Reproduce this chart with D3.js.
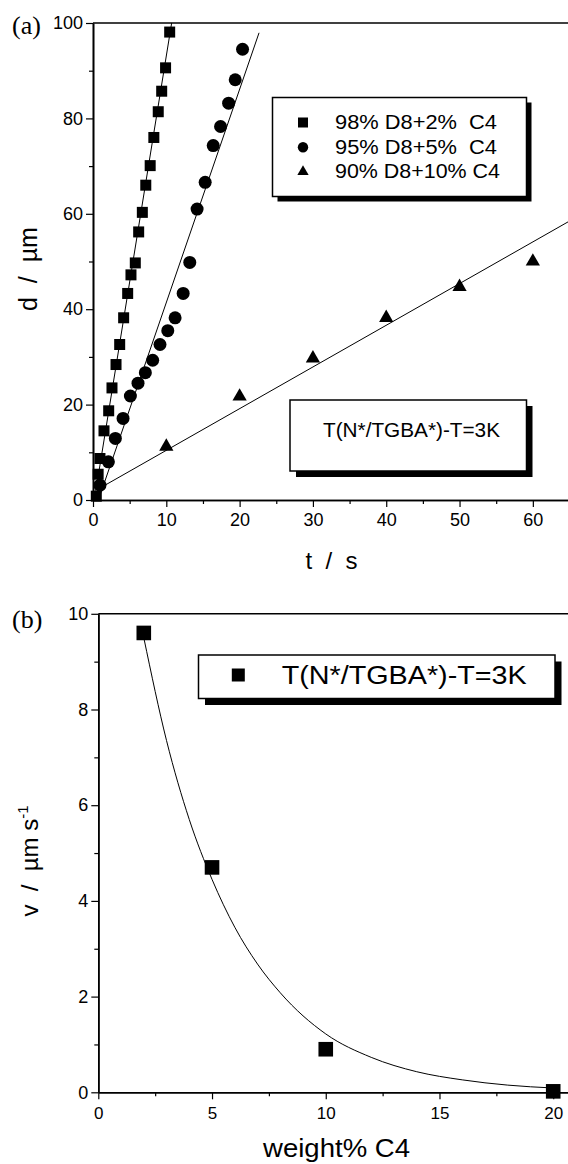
<!DOCTYPE html>
<html>
<head>
<meta charset="utf-8">
<script src="https://cdn.jsdelivr.net/npm/d3@7"></script>
<style>
  body { margin: 0; background: #fff; }
  svg { display: block; }
  text { fill: #000; white-space: pre; }
</style>
</head>
<body>
<div id="chart"></div>
<script>
// panel (a): growth of d with time, three mixtures
var sq98T = [0.45, 0.7, 0.95, 1.5, 2.14, 2.59, 3.14, 3.64, 4.18, 4.73, 5.18, 5.77, 6.23, 6.73, 7.2, 7.8, 8.3, 8.9, 9.37, 9.9, 10.46];
var sq98D = [0.8, 5.4, 8.7, 14.5, 18.7, 23.5, 28.4, 32.6, 38.2, 43.3, 47.2, 49.7, 56.2, 60.3, 66.0, 70.1, 76.0, 81.4, 85.7, 90.6, 98.1];
var circ95T = [0.95, 2.1, 3.05, 4.1, 5.1, 6.14, 7.14, 8.14, 9.14, 10.2, 11.2, 12.3, 13.2, 14.2, 15.3, 16.4, 17.4, 18.5, 19.4, 20.4];
var circ95D = [3.1, 8.0, 12.9, 17.1, 21.8, 24.5, 26.7, 29.3, 32.6, 35.5, 38.2, 43.3, 49.8, 61.0, 66.6, 74.3, 78.3, 83.2, 88.1, 94.5];
var tri90T = [10, 20, 30, 40, 50, 60];
var tri90D = [11.2, 21.7, 29.7, 38.2, 44.7, 50.0];

// linear fits: d = slope * t + intercept, over [start, end]
var fitSlope = [9.48, 4.47, 0.874];
var fitIntercept = [-1.7, -3.3, 1.67];
var fitStart = [0.18, 0.74, 1.64];
var fitEnd = [10.73, 22.65, 65];

var legendA = ["98% D8+2%  C4", "95% D8+5%  C4", "90% D8+10% C4"];
var noteText = "T(N*/TGBA*)-T=3K";

var topXTicks = [0, 10, 20, 30, 40, 50, 60];
var topXMinor = [5, 15, 25, 35, 45, 55, 65];
var topYTicks = [0, 20, 40, 60, 80, 100];
var topYMinor = [10, 30, 50, 70, 90];

// panel (b): velocity vs concentration
var weightC4 = [2, 5, 10, 20];
var velocity = [9.6, 4.7, 0.9, 0.02];
// points along the drawn fit curve
var curveW = [2, 3, 4, 5, 6, 7, 8, 10, 12, 14, 16, 18, 20];
var curveV = [9.5, 7.35, 5.7, 4.45, 3.45, 2.68, 2.08, 1.22, 0.73, 0.43, 0.26, 0.15, 0.09];

var botXTicks = [0, 5, 10, 15, 20];
var botXMinor = [2.5, 7.5, 12.5, 17.5];
var botYTicks = [0, 2, 4, 6, 8, 10];
var botYMinor = [1, 3, 5, 7, 9];

var width = 568, height = 1164;
var sans = "'Liberation Sans', Arial, sans-serif";
var serif = "'Liberation Serif', 'Times New Roman', serif";

var svg = d3.select("#chart")
  .append("svg")
    .attr("width", width)
    .attr("height", height)
    .style("font-family", sans);

function styleAxis(g, fontSize) {
  g.select(".domain").attr("stroke", "#000").attr("stroke-width", 1.6);
  g.selectAll(".tick line").attr("stroke", "#000").attr("stroke-width", 1.2);
  g.selectAll(".tick text").style("font-size", fontSize + "px")
    .style("font-family", sans).attr("fill", "#000");
}

function drawBox(x, y, w, h, off) {
  svg.append("rect").attr("x", x + off).attr("y", y + off).attr("width", w).attr("height", h).attr("fill", "#000");
  svg.append("rect").attr("x", x).attr("y", y).attr("width", w).attr("height", h)
    .attr("fill", "#fff").attr("stroke", "#000").attr("stroke-width", 1.5);
}

// ---------- panel (a) ----------
var xA = d3.scaleLinear().domain([0, 65]).range([93, 569.5]);
var yA = d3.scaleLinear().domain([0, 100]).range([500, 23]);

// top frame line
svg.append("line")
  .attr("x1", xA(0)).attr("x2", xA(65))
  .attr("y1", yA(100)).attr("y2", yA(100))
  .attr("stroke", "#000").attr("stroke-width", 1.5);

var gxA = svg.append("g").attr("transform", "translate(0," + yA(0) + ")")
  .call(d3.axisBottom(xA).tickValues(topXTicks).tickSize(7).tickSizeOuter(0).tickPadding(6));
styleAxis(gxA, 18);
var gxAm = svg.append("g").attr("transform", "translate(0," + yA(0) + ")")
  .call(d3.axisBottom(xA).tickValues(topXMinor).tickSize(4).tickSizeOuter(0).tickFormat(""));
styleAxis(gxAm, 18);

var gyA = svg.append("g").attr("transform", "translate(" + xA(0) + ",0)")
  .call(d3.axisLeft(yA).tickValues(topYTicks).tickSize(7).tickSizeOuter(0).tickPadding(3));
styleAxis(gyA, 18);
var gyAm = svg.append("g").attr("transform", "translate(" + xA(0) + ",0)")
  .call(d3.axisLeft(yA).tickValues(topYMinor).tickSize(4).tickSizeOuter(0).tickFormat(""));
styleAxis(gyAm, 18);

// fit lines
fitSlope.forEach(function(s, i) {
  svg.append("line")
    .attr("x1", xA(fitStart[i])).attr("y1", yA(s * fitStart[i] + fitIntercept[i]))
    .attr("x2", xA(fitEnd[i])).attr("y2", yA(s * fitEnd[i] + fitIntercept[i]))
    .attr("stroke", "#000").attr("stroke-width", 1);
});

// squares
svg.selectAll(".sq98")
  .data(d3.zip(sq98T, sq98D))
  .enter()
  .append("rect")
  .attr("x", function(d) { return xA(d[0]) - 5.5; })
  .attr("y", function(d) { return yA(d[1]) - 5.5; })
  .attr("width", 11).attr("height", 11)
  .attr("fill", "#000");

// circles
svg.selectAll(".c95")
  .data(d3.zip(circ95T, circ95D))
  .enter()
  .append("circle")
  .attr("cx", function(d) { return xA(d[0]); })
  .attr("cy", function(d) { return yA(d[1]); })
  .attr("r", 6.5)
  .attr("fill", "#000");

// triangles
svg.selectAll(".t90")
  .data(d3.zip(tri90T, tri90D))
  .enter()
  .append("path")
  .attr("d", d3.symbol(d3.symbolTriangle).size(88))
  .attr("transform", function(d) { return "translate(" + xA(d[0]) + "," + yA(d[1]) + ")"; })
  .attr("fill", "#000");

// legend (a)
drawBox(272.5, 97.5, 254, 99, 5);
var legY = [122.5, 147.3, 171.8];
var legLen = [162, 162, 165];
svg.append("rect").attr("x", 298).attr("y", legY[0] - 5).attr("width", 10).attr("height", 10).attr("fill", "#000");
svg.append("circle").attr("cx", 303).attr("cy", legY[1]).attr("r", 5.2).attr("fill", "#000");
svg.append("path").attr("d", d3.symbol(d3.symbolTriangle).size(55))
  .attr("transform", "translate(303," + legY[2] + ")").attr("fill", "#000");
legendA.forEach(function(t, i) {
  svg.append("text")
    .attr("x", 335).attr("y", legY[i] + 6.5)
    .style("font-size", "19.5px")
    .attr("textLength", legLen[i]).attr("lengthAdjust", "spacingAndGlyphs")
    .text(t);
});

// condition note (a)
drawBox(290, 400, 236.5, 71, 6);
svg.append("text")
  .attr("x", 411.5).attr("y", 437)
  .attr("text-anchor", "middle")
  .style("font-size", "21px")
  .attr("textLength", 177).attr("lengthAdjust", "spacingAndGlyphs")
  .text(noteText);

// axis titles (a)
svg.append("text")
  .attr("x", 331.5).attr("y", 568.5)
  .attr("text-anchor", "middle")
  .style("font-size", "24px")
  .text("t  /  s");
svg.append("text")
  .attr("transform", "translate(37,269) rotate(-90)")
  .attr("text-anchor", "middle")
  .style("font-size", "25px")
  .text("d  /  \u00b5m");

svg.append("text")
  .attr("x", 12).attr("y", 34)
  .style("font-family", serif)
  .style("font-size", "26px")
  .text("(a)");

// ---------- panel (b) ----------
var xB = d3.scaleLinear().domain([0, 20.65]).range([98.3, 568]);
var yB = d3.scaleLinear().domain([0, 10]).range([1092.3, 613.8]);

svg.append("line")
  .attr("x1", xB(0)).attr("x2", xB(20.65))
  .attr("y1", yB(10)).attr("y2", yB(10))
  .attr("stroke", "#000").attr("stroke-width", 1.5);

var gxB = svg.append("g").attr("transform", "translate(0," + yB(0) + ")")
  .call(d3.axisBottom(xB).tickValues(botXTicks).tickSize(7).tickSizeOuter(0).tickPadding(8));
styleAxis(gxB, 17);
var gxBm = svg.append("g").attr("transform", "translate(0," + yB(0) + ")")
  .call(d3.axisBottom(xB).tickValues(botXMinor).tickSize(4).tickSizeOuter(0).tickFormat(""));
styleAxis(gxBm, 17);

var gyB = svg.append("g").attr("transform", "translate(" + xB(0) + ",0)")
  .call(d3.axisLeft(yB).tickValues(botYTicks).tickSize(7).tickSizeOuter(0).tickPadding(3));
styleAxis(gyB, 18);
var gyBm = svg.append("g").attr("transform", "translate(" + xB(0) + ",0)")
  .call(d3.axisLeft(yB).tickValues(botYMinor).tickSize(4).tickSizeOuter(0).tickFormat(""));
styleAxis(gyBm, 18);

// fit curve
var curveLine = d3.line()
  .x(function(d) { return xB(d[0]); })
  .y(function(d) { return yB(d[1]); })
  .curve(d3.curveMonotoneX);
svg.append("path")
  .datum(d3.zip(curveW, curveV))
  .attr("d", curveLine)
  .attr("fill", "none")
  .attr("stroke", "#000")
  .attr("stroke-width", 1);

svg.selectAll(".vb")
  .data(d3.zip(weightC4, velocity))
  .enter()
  .append("rect")
  .attr("x", function(d) { return xB(d[0]) - 7.3; })
  .attr("y", function(d) { return yB(d[1]) - 7.3; })
  .attr("width", 14.6).attr("height", 14.6)
  .attr("fill", "#000");

// legend (b)
drawBox(198.5, 655, 356.5, 43.5, 6.5);
svg.append("rect").attr("x", 231.8).attr("y", 668.5).attr("width", 13).attr("height", 13).attr("fill", "#000");
svg.append("text")
  .attr("x", 281.7).attr("y", 684)
  .style("font-size", "25px")
  .attr("textLength", 245).attr("lengthAdjust", "spacingAndGlyphs")
  .text(noteText);

// axis titles (b)
svg.append("text")
  .attr("x", 336.5).attr("y", 1156.5)
  .attr("text-anchor", "middle")
  .style("font-size", "25px")
  .attr("textLength", 147).attr("lengthAdjust", "spacingAndGlyphs")
  .text("weight% C4");

var vLabel = svg.append("text")
  .attr("transform", "translate(38,861) rotate(-90)")
  .attr("text-anchor", "middle")
  .style("font-size", "24px");
vLabel.append("tspan").text("v  /  \u00b5m s");
vLabel.append("tspan").style("font-size", "15px").attr("dy", -10).text("-1");

svg.append("text")
  .attr("x", 12).attr("y", 628)
  .style("font-family", serif)
  .style("font-size", "26px")
  .text("(b)");
</script>
</body>
</html>
